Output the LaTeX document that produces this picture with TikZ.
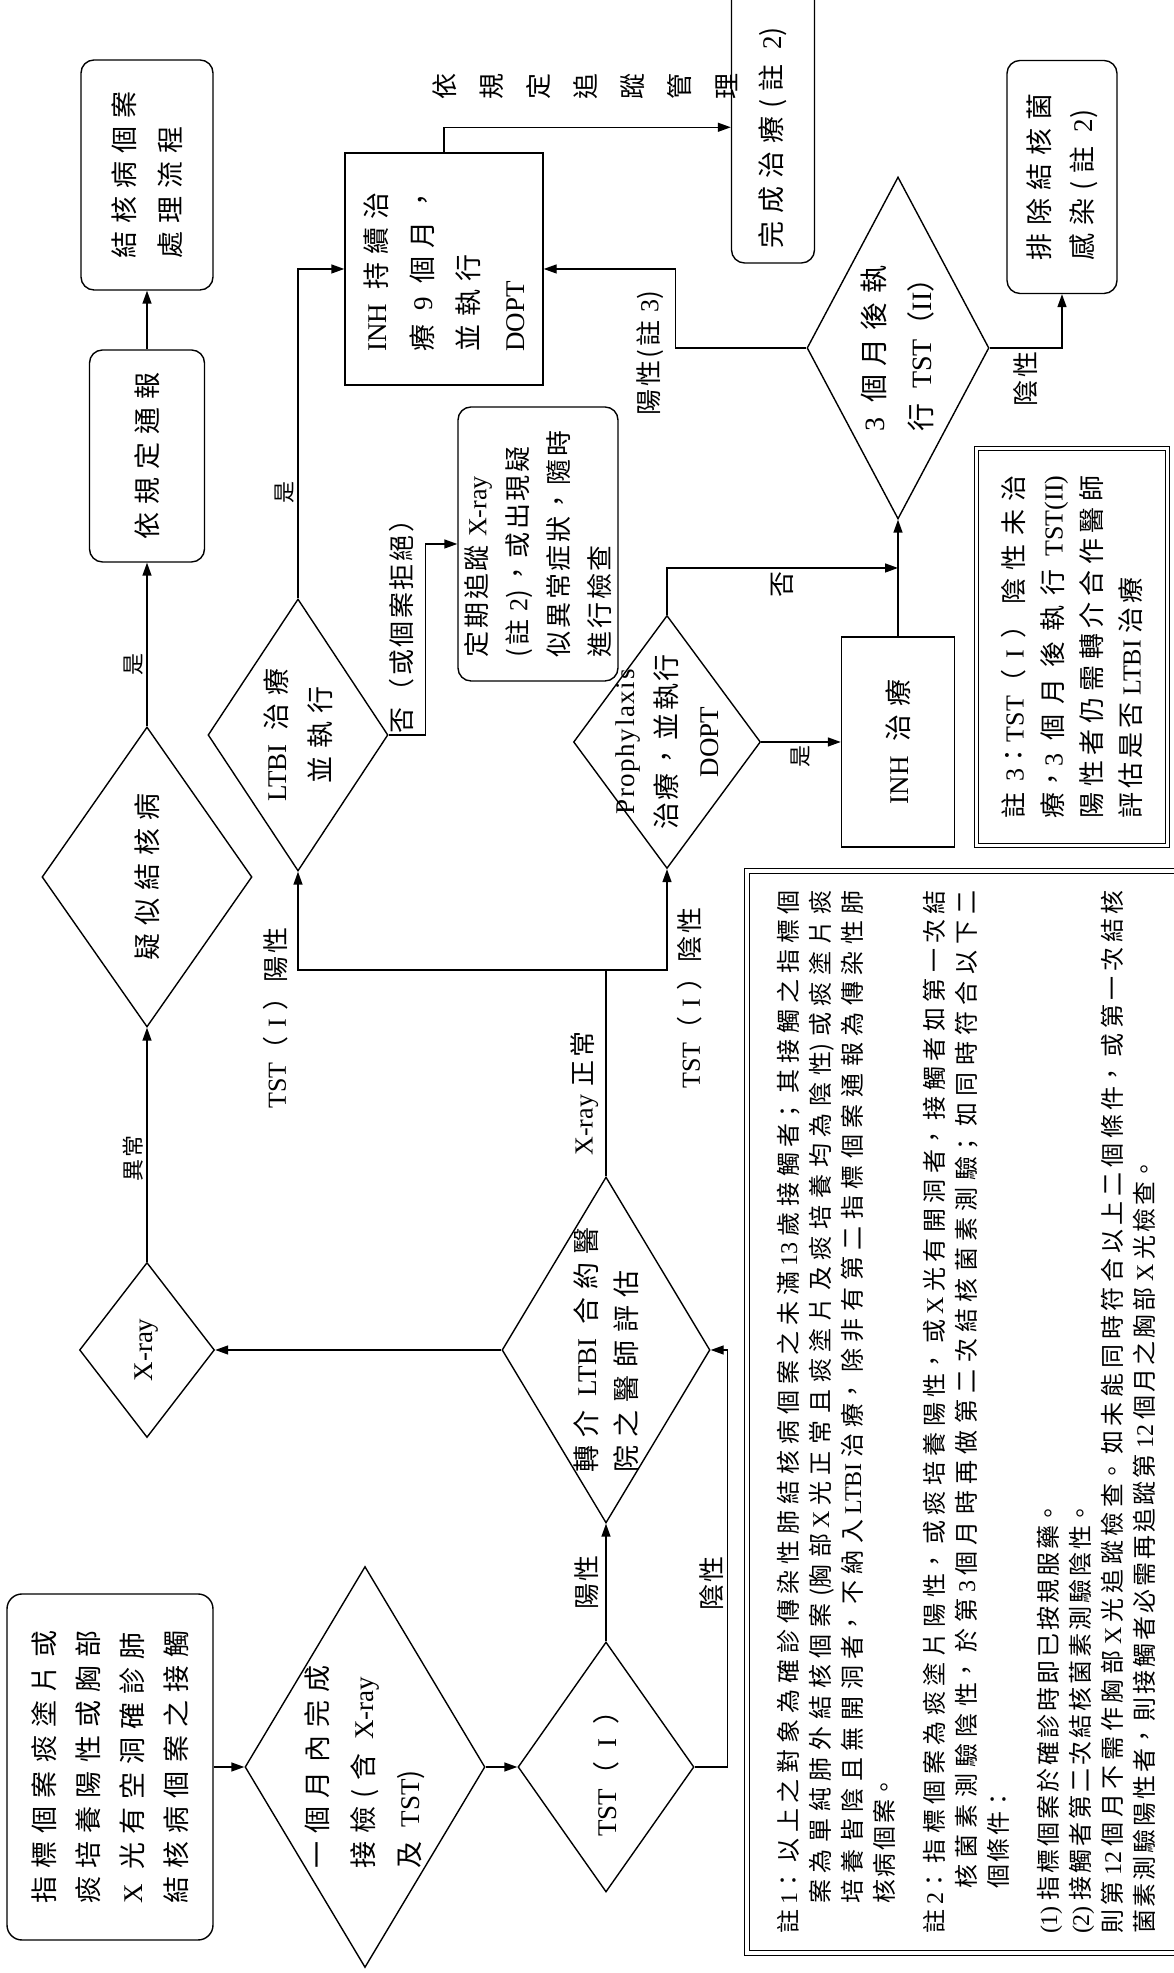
\documentclass[tikz,border=0pt]{standalone}
\usepackage{fontspec}
\setmainfont{Noto Sans CJK TC}[LetterSpace=30]
\newfontfamily\cjknarrow{Noto Sans CJK TC}[LetterSpace=10]
\newfontfamily\cjkplain{Noto Sans CJK TC}
\newfontfamily\latfont{Liberation Serif}
\newfontfamily\latwide{Liberation Serif}[LetterSpace=6]
\newcommand\lat[1]{{\latfont #1}}
\newcommand\fs[2]{\fontsize{#1}{#2}\selectfont}
\newcommand\jz[1]{\XeTeXlinebreaklocale "zh"\XeTeXlinebreakskip=#1 plus 1fil\parfillskip=0pt plus 1fill\relax}
\usetikzlibrary{arrows.meta,shapes.geometric}

\begin{document}
\begin{tikzpicture}[x=1pt, y=-1pt, rotate=90, transform shape, line width=1.4pt,
	every node/.style={font=\fs{27}{45}, inner sep=0pt},
	box/.style={draw, rounded corners=13pt, align=center},
	sqbox/.style={draw, align=center},
	decision/.style={draw, diamond, inner sep=-300pt, align=center},
	notebox/.style={draw, double, double distance=3.5pt, line width=1.1pt, inner xsep=19pt},
	lbl/.style={font=\cjknarrow\fs{26}{30}, inner sep=3pt},
	tinylbl/.style={font=\cjknarrow\fs{22}{26}, inner sep=3pt},
	arr/.style={-{Triangle[length=13pt, width=9pt]}}]
	\path[use as bounding box, fill=white] (0,0) rectangle (1973,1174);

	\node[box, rounded corners=15pt, align=left, minimum width=346pt, minimum height=206pt, font=\fs{27}{44}] (start) at (206,110) {指標個案痰塗片或\\痰培養陽性或胸部\\\lat{X} 光有空洞確診肺\\結核病個案之接觸};
	\node[decision, align=left, minimum width=401pt, minimum height=240pt, font=\fs{27}{46}] (check) at (206,365) {一個月內完成\\接檢(含 \lat{X-ray}\\及 \lat{TST})};
	\node[decision, minimum width=250pt, minimum height=176pt] (tst) at (206,606) {\lat{TST}（ \lat{I} ）};
	\node[decision, align=left, minimum width=346pt, minimum height=208pt, font=\fs{27}{40}] (refer) at (623,606) {轉介 \lat{LTBI} 合約醫\\院之醫師評估};
	\node[decision, minimum width=175pt, minimum height=135pt] (xray) at (623,147) {\lat{X-ray}};
	\node[decision, minimum width=300pt, minimum height=210pt] (suspect) at (1096,147) {疑似結核病};
	\node[box, minimum width=212pt, minimum height=115pt] (report) at (1517,147) {依規定通報};
	\node[box, align=left, minimum width=230pt, minimum height=132pt, font=\fs{27}{46}] (tbflow) at (1798,147) {結核病個案\\處理流程};
	\node[decision, minimum width=272pt, minimum height=180pt, font=\fs{27}{44}] (ltbi) at (1238,298) {\lat{LTBI} 治療\\並執行};
	\node[decision, minimum width=253pt, minimum height=187pt, font=\cjknarrow\fs{27}{42}] (proph) at (1231,667) {{\latwide Prophylaxis}\\治療，並執行\\\lat{DOPT}};
	\node[sqbox, align=left, minimum width=232pt, minimum height=198pt, font=\fs{27}{46}] (inh9) at (1704,444) {\lat{INH} 持續治\\療 \lat{9} 個月，\\並執行\\\lat{DOPT}};
	\node[box, align=left, minimum width=274pt, minimum height=160pt, font=\cjknarrow\fs{26}{41}] (follow) at (1429,538) {定期追蹤 \lat{X-ray}\\(註 \lat{2})，或出現疑\\似異常症狀，隨時\\進行檢查};
	\node[sqbox, minimum width=210pt, minimum height=113pt] (inhtx) at (1231,898) {\lat{INH} 治療};
	\node[decision, align=left, minimum width=342pt, minimum height=182pt, font=\fs{28}{47}] (tst2) at (1625,898) {\lat{3} 個月後執\\行 \lat{TST}（\lat{II}）};
	\node[box, minimum width=290pt, minimum height=83pt] (done) at (1855,773) {完成治療(註 \lat{2})\kern40pt};
	\node[box, align=left, minimum width=233pt, minimum height=110pt, font=\fs{27}{43}] (exclude) at (1796,1062) {排除結核菌\\感染(註 \lat{2})};
	\node[notebox, minimum width=397pt, minimum height=191pt, text width=343pt, align=justify, font=\cjkplain\fs{26}{39}] (note3) at (1326,1072) {\jz{4pt}\spaceskip=7pt plus 1fil\relax 註 \lat{3}：\lat{TST}（ \lat{I} ）陰性未治\linebreak 療，\lat{3} 個月後執行 \lat{TST(II)}\linebreak 陽性者仍需轉介合作醫師\linebreak 評估是否 \lat{LTBI} 治療\par};
	\node[notebox, minimum width=1082pt, minimum height=438pt, text width=1044pt, align=justify, font=\cjkplain\fs{24}{32}] (notes) at (561,966) {\jz{3pt}%
		\hangindent=30pt\hangafter=1 註 \lat{1}：以上之對象為確診傳染性肺結核病個案之未滿 \lat{13} 歲接觸者；其接觸之指標個\linebreak 案為單純肺外結核個案(胸部 \lat{X} 光正常且痰塗片及痰培養均為陰性)或痰塗片痰\linebreak 培養皆陰且無開洞者，不納入 \lat{LTBI} 治療，除非有第二指標個案通報為傳染性肺\linebreak 核病個案。\par\vspace{18pt}
		\hangindent=45pt\hangafter=1 註 \lat{2}：指標個案為痰塗片陽性，或痰培養陽性，或 \lat{X} 光有開洞者，接觸者如第一次結\linebreak 核菌素測驗陰性，於第 \lat{3} 個月時再做第二次結核菌素測驗；如同時符合以下二\linebreak 個條件：\par\vspace{18pt}
		\lat{(1)} 指標個案於確診時即已按規服藥。\par
		\lat{(2)} 接觸者第二次結核菌素測驗陰性。\par
		則第 \lat{12} 個月不需作胸部 \lat{X} 光追蹤檢查。如未能同時符合以上二個條件，或第一次結核\linebreak 菌素測驗陽性者，則接觸者必需再追蹤第 \lat{12} 個月之胸部 \lat{X} 光檢查。\par};

	\draw[arr] (start.south) -- (check.north);
	\draw[arr] (check.south) -- (tst.north);
	\draw[arr] (tst.east) -- node[lbl, above=4pt] (lblpos) {陽性} (refer.west);
	\draw[arr] (tst.south) -- ++(0,33) -| node[lbl, pos=0.22, above] (lblneg) {陰性} (refer.south);
	\draw[arr] (refer.north) -- (xray.south);
	\draw[arr] (xray.east) -- node[tinylbl, pos=0.44, above] (lblabn) {異常} (suspect.west);
	\draw[arr] (suspect.east) -- node[tinylbl, pos=0.38, above] (lblyes) {是} (report.west);
	\draw[arr] (report.east) -- (tbflow.west);

	\coordinate (split) at (1003,606);
	\draw (refer.east) -- node[lbl, pos=0.4, above=4pt] (lblxok) {\lat{X-ray} 正常} (split);
	\draw[arr] (split) |- (ltbi.west);
	\draw[arr] (split) |- (proph.west);
	\node[lbl] (lbltstpos) at (955,276) {\lat{TST}（ \lat{I} ）陽性};
	\node[lbl] (lbltstneg) at (975,690) {\lat{TST}（ \lat{I} ）陰性};

	\draw[arr] (ltbi.east) -| node[tinylbl, pos=0.16, above] (lblyes2) {是} (inh9.north);
	\draw[arr] (ltbi.south) -- ++(0,37) -| (follow.north);
	\node[lbl] (lblrefuse) at (1353,402) {否（或個案拒絕）};

	\draw[arr] (proph.south) -- node[tinylbl, left] (lblyes3) {是} (inhtx.north);
	\coordinate (nojoin) at (1405,898);
	\draw[arr] (proph.east) -| node[lbl, pos=0.75, left] (lblno) {否} (nojoin);
	\draw[arr] (inhtx.east) -- (tst2.west);

	\draw[arr] (tst2.north) -- ++(0,-131) -| (inh9.south);
	\node[lbl] (lblpos3) at (1620,650) {陽性(註 \lat{3})};
	\draw[arr] (inh9.east) -- ++(25,0) coordinate (turn) -- (turn |- done.north);
	\node[lbl, font=\cjkplain\fs{26}{47}, align=center] (lblmanage) at (1886,585) {依\\規\\定\\追\\蹤\\管\\理};
	\draw[arr] (tst2.south) |- node[lbl, pos=0.25, left] (lblneg2) {陰性} (exclude.west);
\end{tikzpicture}
\end{document}
